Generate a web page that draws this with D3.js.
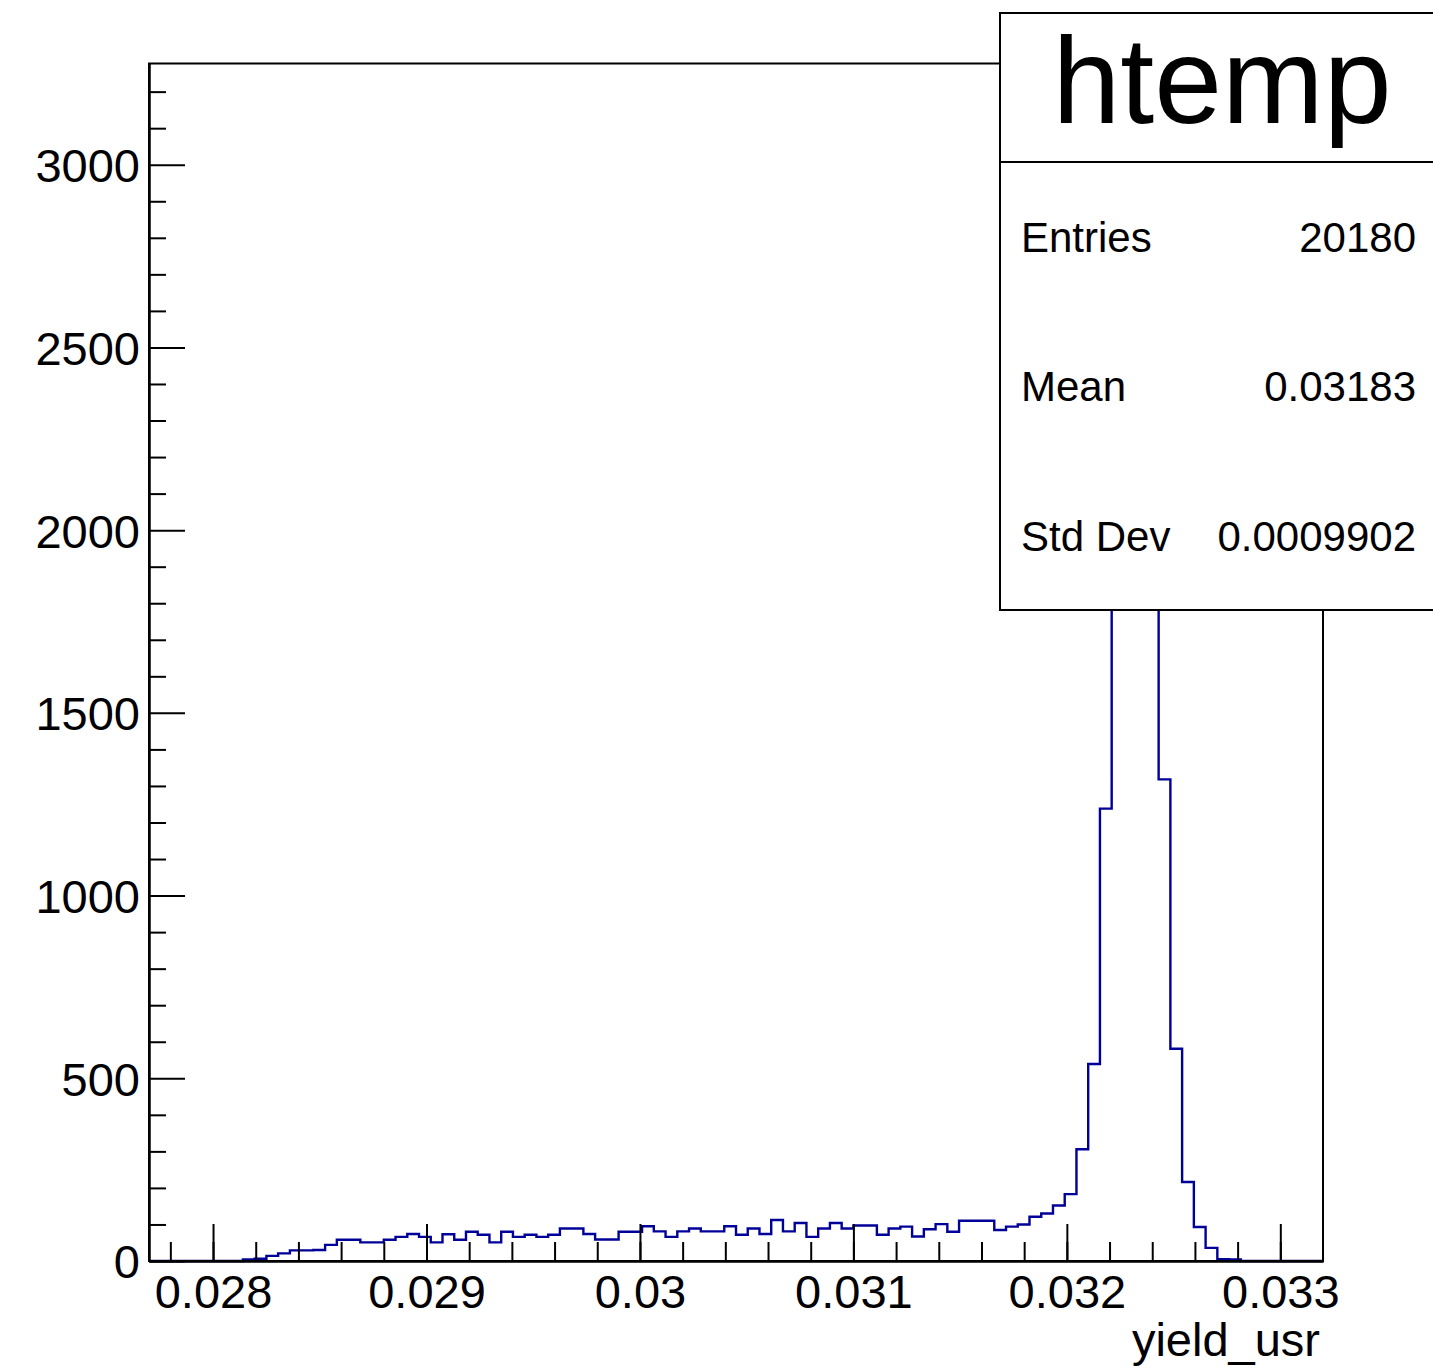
<!DOCTYPE html>
<html><head><meta charset="utf-8">
<script src="https://cdn.jsdelivr.net/npm/d3@7"></script>
<style>
body{margin:0;background:#fff}
svg{display:block}
text{font-family:"Liberation Sans",Arial,Helvetica,sans-serif;fill:#000}
</style>
</head><body>
<svg id="c" width="1433" height="1371"></svg>
<script>
// ---- data ----
const histName = "htemp";
const xTitle = "yield_usr";
const xRange = [0.0277, 0.0332];
const binCounts = [
  0,0,0,0,0,0,0,0,
  4,6,14,21,29,29,30,
  44,58,58,51,51,
  58,66,74,66,51,
  73,58,80,72,51,
  80,66,72,66,72,
  89,89,74,59,59,
  80,80,95,81,66,
  81,89,81,81,95,
  72,89,74,112,81,
  104,66,89,104,89,
  97,97,72,89,94,
  67,87,101,80,110,
  110,110,85,94,100,
  121,130,152,183,306,
  539,1238,2100,3121,3050,2115,
  1318,581,216,93,36,5,4,
  0,0,0,0,0,0,0
];
const yMax = 3277;
const xMajorTicks = [0.028, 0.029, 0.030, 0.031, 0.032, 0.033];
const xTickLabels = ["0.028", "0.029", "0.03", "0.031", "0.032", "0.033"];
const yMajorTicks = [0, 500, 1000, 1500, 2000, 2500, 3000];
const yTickLabels = ["0", "500", "1000", "1500", "2000", "2500", "3000"];
const statNames = ["Entries", "Mean", "Std Dev"];
const statValues = ["20180", "0.03183", "0.0009902"];

// ---- layout ----
const frame = {left: 149, right: 1323, top: 63.5, bottom: 1261};
const svg = d3.select("#c");

const x = d3.scaleLinear().domain(xRange).range([frame.left, frame.right]);
const y = d3.scaleLinear().domain([0, yMax]).range([frame.bottom, frame.top]);

const nb = binCounts.length;
const bw = (xRange[1] - xRange[0]) / nb;
const edges = d3.range(nb + 1).map(i => xRange[0] + i * bw);

// histogram outline
const pts = binCounts.map((v, i) => [edges[i], v]);
pts.push([edges[nb], binCounts[nb - 1]]);
const line = d3.line().x(d => x(d[0])).y(d => y(d[1])).curve(d3.curveStepAfter);
svg.append("path").attr("d", line(pts))
  .attr("fill", "none").attr("stroke", "#000099").attr("stroke-width", 2.4);

// minor ticks
const xMinor = d3.range(0, 27).map(i => 0.0278 + i * 0.0002).filter(v => v < xRange[1] - 1e-6);
const yMinor = d3.range(0, 33).map(i => i * 100).filter(v => v % 500 !== 0);

const gx = svg.append("g").attr("transform", `translate(0,${frame.bottom})`);
gx.call(d3.axisBottom(x).tickValues(xMinor).tickSizeInner(-19).tickSizeOuter(0).tickFormat(""));
const gx2 = svg.append("g").attr("transform", `translate(0,${frame.bottom})`);
gx2.call(d3.axisBottom(x).tickValues(xMajorTicks).tickSizeInner(-37).tickSizeOuter(0).tickPadding(14)
  .tickFormat((d, i) => xTickLabels[i]));

const gy = svg.append("g").attr("transform", `translate(${frame.left},0)`);
gy.call(d3.axisLeft(y).tickValues(yMinor).tickSizeInner(-17).tickSizeOuter(0).tickFormat(""));
const gy2 = svg.append("g").attr("transform", `translate(${frame.left},0)`);
gy2.call(d3.axisLeft(y).tickValues(yMajorTicks).tickSizeInner(-36).tickSizeOuter(0).tickPadding(9)
  .tickFormat((d, i) => yTickLabels[i]));

svg.selectAll(".tick line").attr("stroke", "#000").attr("stroke-width", 2);
svg.selectAll(".domain").attr("stroke", "#000").attr("stroke-width", 2);
svg.selectAll(".tick text").style("font-size", "47px").attr("fill", "#000")
  .style("font-family", '"Liberation Sans",Arial,sans-serif');
gy2.selectAll(".tick text").attr("dy", "0.36em");

// frame
svg.append("rect").attr("x", frame.left).attr("y", frame.top)
  .attr("width", frame.right - frame.left).attr("height", frame.bottom - frame.top)
  .attr("fill", "none").attr("stroke", "#000").attr("stroke-width", 2);

// axis title
svg.append("text").attr("x", 1320).attr("y", 1356).attr("text-anchor", "end")
  .style("font-size", "47px").text(xTitle);

// stats box
const sb = {x: 1000, y: 13, w: 460, h: 597, div: 162};
svg.append("rect").attr("x", sb.x).attr("y", sb.y).attr("width", sb.w).attr("height", sb.h)
  .attr("fill", "#fff").attr("stroke", "#000").attr("stroke-width", 2);
svg.append("line").attr("x1", sb.x).attr("x2", sb.x + sb.w).attr("y1", sb.div).attr("y2", sb.div)
  .attr("stroke", "#000").attr("stroke-width", 2);
svg.append("text").attr("x", 1222).attr("y", 123).attr("text-anchor", "middle")
  .style("font-size", "122px").text(histName);
const rowY = [252, 401, 551];
statNames.forEach((n, i) => {
  svg.append("text").attr("x", 1021).attr("y", rowY[i]).style("font-size", "42px").text(n);
  svg.append("text").attr("x", 1416).attr("y", rowY[i]).attr("text-anchor", "end")
    .style("font-size", "42px").text(statValues[i]);
});
</script>
</body></html>
